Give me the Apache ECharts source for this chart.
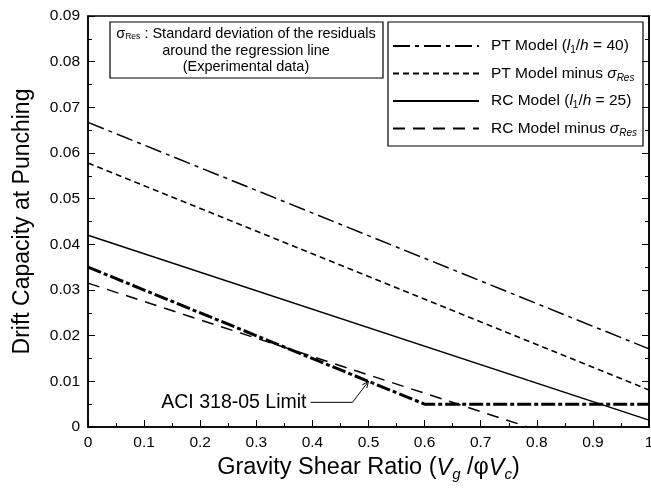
<!DOCTYPE html>
<html><head><meta charset="utf-8">
<script src="https://cdn.jsdelivr.net/npm/echarts@6/dist/echarts.min.js"></script>
<style>html,body{margin:0;padding:0;background:#fff}#c{width:651px;height:488px}</style>
</head><body><div id="c"></div>
<script>
// ---- data ----
const seriesNames = ['PT Model', 'PT Model minus', 'RC Model', 'RC Model minus', 'ACI 318-05 Limit'];
const ptModel  = [[0, 0.0667], [1, 0.0171]];
const ptMinus  = [[0, 0.0578], [1, 0.0081]];
const rcModel  = [[0, 0.0420], [1, 0.0015]];
const rcMinus  = [[0, 0.0315], [0.784, 0]];
const aciLimit = [[0, 0.035], [0.6, 0.005], [1, 0.005]];
const aciArrowTarget = [0.5, 0.01];
const xRange = [0, 1, 0.1];
const yRange = [0, 0.09, 0.01];

const FONT = "'Liberation Sans', Arial, sans-serif";
const chart = echarts.init(document.getElementById('c'), null, {renderer: 'canvas'});

const legendRich = {
  n: {fontSize: 15.5, fontFamily: FONT, color: '#000'},
  i: {fontSize: 15.5, fontFamily: FONT, color: '#000', fontStyle: 'italic'},
  s: {fontSize: 10, fontFamily: FONT, color: '#000', padding: [9, 0, 0, 0]},
  si: {fontSize: 10, fontFamily: FONT, color: '#000', fontStyle: 'italic', padding: [9, 0, 0, 0]},
  g: {fontSize: 15.5, fontFamily: FONT, color: '#000', fontStyle: 'italic'}
};
const legendText = {
  'PT Model': '{n|PT Model (}{i|l}{s|1}{n|/}{i|h}{n| = 40)}',
  'PT Model minus': '{n|PT Model minus }{g|σ}{si|Res}',
  'RC Model': '{n|RC Model (}{i|l}{s|1}{n|/}{i|h}{n| = 25)}',
  'RC Model minus': '{n|RC Model minus }{g|σ}{si|Res}'
};

function lineSeries(name, data, type, width) {
  return {
    name: name, type: 'line', data: data, showSymbol: false, symbol: 'none',
    itemStyle: {color: '#000'},
    lineStyle: {color: '#000', width: width, type: type}, silent: true, z: 3
  };
}

const option = {
  animation: false,
  backgroundColor: '#fff',
  grid: {left: 88, right: 2, top: 16, bottom: 61, outerBoundsMode: 'none', containLabel: false,
         show: true, borderColor: '#000', borderWidth: 1.5},
  xAxis: [{
    type: 'value', min: xRange[0], max: xRange[1], interval: xRange[2],
    axisLine: {lineStyle: {color: '#000', width: 1.5}},
    axisTick: {inside: true, length: 7, lineStyle: {color: '#000'}},
    minorTick: {show: true, splitNumber: 2, length: 4, lineStyle: {color: '#000'}},
    splitLine: {show: false},
    axisLabel: {color: '#000', fontSize: 15.5, fontFamily: FONT, margin: 8,
      formatter: v => (v === 0 ? '0' : (Math.abs(v - 1) < 1e-9 ? '1' : v.toFixed(1)))},
    name: '{n|Gravity Shear Ratio (}{i|V}{s|g}{n| /φ}{i|V}{s|c}{n|)}',
    nameLocation: 'middle', nameGap: 27,
    nameTextStyle: {rich: {
      n: {fontSize: 23.5, fontFamily: FONT, color: '#000'},
      i: {fontSize: 23.5, fontFamily: FONT, color: '#000', fontStyle: 'italic'},
      s: {fontSize: 15, fontFamily: FONT, color: '#000', fontStyle: 'italic', padding: [13, 0, 0, 0]}
    }}
  }],
  yAxis: [{
    type: 'value', min: yRange[0], max: yRange[1], interval: yRange[2],
    axisLine: {show: true, lineStyle: {color: '#000', width: 1.5}},
    axisTick: {show: true, inside: true, length: 7, lineStyle: {color: '#000'}},
    minorTick: {show: true, splitNumber: 2, length: 4, lineStyle: {color: '#000'}},
    splitLine: {show: false},
    axisLabel: {color: '#000', fontSize: 15.5, fontFamily: FONT, margin: 8,
      formatter: v => (v === 0 ? '0' : v.toFixed(2))},
    name: 'Drift Capacity at Punching', nameLocation: 'middle', nameGap: 54,
    nameTextStyle: {fontSize: 23, fontFamily: FONT, color: '#000'}
  }, {
    type: 'value', position: 'right', min: yRange[0], max: yRange[1], interval: yRange[2],
    axisLine: {show: true, lineStyle: {color: '#000', width: 1.5}},
    axisTick: {show: true, inside: true, length: 7, lineStyle: {color: '#000'}},
    minorTick: {show: true, splitNumber: 2, length: 4, lineStyle: {color: '#000'}},
    splitLine: {show: false}, axisLabel: {show: false}
  }],
  legend: {
    orient: 'vertical', left: 387, top: 33, itemWidth: 86, itemHeight: 16, itemGap: 10,
    data: seriesNames.slice(0, 4),
    formatter: name => legendText[name],
    itemStyle: {opacity: 0},
    textStyle: {rich: legendRich, padding: [0, 0, 0, 7]},
    selectedMode: false
  },
  series: [
    lineSeries(seriesNames[0], ptModel, [17, 5, 4, 5], 1.5),
    lineSeries(seriesNames[1], ptMinus, [6, 4], 1.5),
    lineSeries(seriesNames[2], rcModel, 'solid', 1.5),
    lineSeries(seriesNames[3], rcMinus, [12, 8], 1.5),
    lineSeries(seriesNames[4], aciLimit, [14, 3, 4, 3], 3)
  ]
};
chart.setOption(option);

// annotations positioned through the axis scales
const p = chart.convertToPixel({gridIndex: 0}, aciArrowTarget);
const ang = Math.atan2(21, -16);
const ah = 7;
const a1 = [p[0] + ah * Math.cos(ang - 0.4), p[1] + ah * Math.sin(ang - 0.4)];
const a2 = [p[0] + ah * Math.cos(ang + 0.4), p[1] + ah * Math.sin(ang + 0.4)];
const NOTE = {fontSize: 14.5, fontFamily: FONT, fill: '#000'};

chart.setOption({
  graphic: [
    // legend frame
    {type: 'rect', shape: {x: 388, y: 22, width: 255, height: 124}, style: {fill: null, stroke: '#000', lineWidth: 1.2}, z: 10},
    // note box
    {type: 'rect', shape: {x: 110, y: 22, width: 273, height: 56}, style: {fill: '#fff', stroke: '#000', lineWidth: 1.2}, z: 10},
    {type: 'text', x: 246, y: 34, z: 11, style: {
      text: '{g|σ}{s|Res}{n| : Standard deviation of the residuals}',
      align: 'center', verticalAlign: 'middle',
      rich: {n: NOTE, g: NOTE, s: {fontSize: 8.5, fontFamily: FONT, fill: '#000', padding: [6, 0, 0, 0]}}}},
    {type: 'text', x: 246, y: 50.5, z: 11, style: Object.assign({text: 'around the regression line', align: 'center', verticalAlign: 'middle'}, NOTE)},
    {type: 'text', x: 246, y: 67, z: 11, style: Object.assign({text: '(Experimental data)', align: 'center', verticalAlign: 'middle'}, NOTE)},
    // ACI arrow + label
    {type: 'polyline', z: 11, shape: {points: [[p[0] - 58, p[1] + 21], [p[0] - 16, p[1] + 21], [p[0], p[1]]]}, style: {stroke: '#000', lineWidth: 1, fill: null}},
    {type: 'polyline', z: 11, shape: {points: [a1, p, a2]}, style: {stroke: '#000', lineWidth: 1, fill: null}},
    {type: 'text', x: p[0] - 62, y: p[1] + 21, z: 11, style: {text: 'ACI 318-05 Limit', align: 'right', verticalAlign: 'middle', fontSize: 19.5, fontFamily: FONT, fill: '#000'}}
  ]
});
</script>
</body></html>
